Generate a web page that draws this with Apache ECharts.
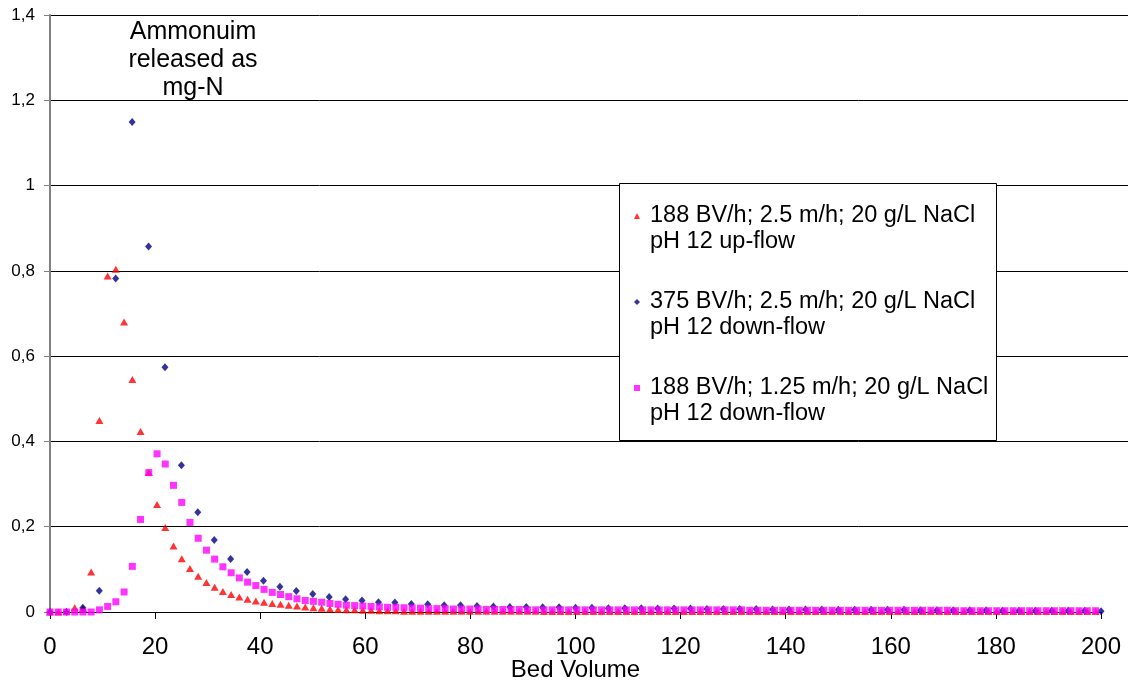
<!DOCTYPE html>
<html>
<head>
<meta charset="utf-8">
<title>Ammonium release during regeneration</title>
<script src="https://cdn.jsdelivr.net/npm/echarts@6/dist/echarts.min.js"></script>
<style>
  html, body { margin: 0; padding: 0; background: #ffffff; }
  #chart { width: 1132px; height: 682px; }
</style>
</head>
<body>
<div id="chart"></div>
<script>
// Bed volumes of the 30-second samples at 188 BV/h (runs 1 and 3)
const bvSlow = [
  0, 1.57, 3.13, 4.70, 6.27, 7.83, 9.40, 10.97, 12.53, 14.10,
  15.67, 17.23, 18.80, 20.37, 21.93, 23.50, 25.07, 26.63, 28.20, 29.77,
  31.33, 32.90, 34.47, 36.03, 37.60, 39.17, 40.73, 42.30, 43.87, 45.43,
  47.00, 48.57, 50.13, 51.70, 53.27, 54.83, 56.40, 57.97, 59.53, 61.10,
  62.67, 64.23, 65.80, 67.37, 68.93, 70.50, 72.07, 73.63, 75.20, 76.77,
  78.33, 79.90, 81.47, 83.03, 84.60, 86.17, 87.73, 89.30, 90.87, 92.43,
  94.00, 95.57, 97.13, 98.70, 100.27, 101.83, 103.40, 104.97, 106.53, 108.10,
  109.67, 111.23, 112.80, 114.37, 115.93, 117.50, 119.07, 120.63, 122.20, 123.77,
  125.33, 126.90, 128.47, 130.03, 131.60, 133.17, 134.73, 136.30, 137.87, 139.43,
  141.00, 142.57, 144.13, 145.70, 147.27, 148.83, 150.40, 151.97, 153.53, 155.10,
  156.67, 158.23, 159.80, 161.37, 162.93, 164.50, 166.07, 167.63, 169.20, 170.77,
  172.33, 173.90, 175.47, 177.03, 178.60, 180.17, 181.73, 183.30, 184.87, 186.43,
  188.00, 189.57, 191.13, 192.70, 194.27, 195.83, 197.40, 198.97
];

// Bed volumes of the 30-second samples at 375 BV/h (run 2)
const bvFast = [
  0, 3.125, 6.25, 9.375, 12.5, 15.625, 18.75, 21.875, 25, 28.125,
  31.25, 34.375, 37.5, 40.625, 43.75, 46.875, 50, 53.125, 56.25, 59.375,
  62.5, 65.625, 68.75, 71.875, 75, 78.125, 81.25, 84.375, 87.5, 90.625,
  93.75, 96.875, 100, 103.125, 106.25, 109.375, 112.5, 115.625, 118.75, 121.875,
  125, 128.125, 131.25, 134.375, 137.5, 140.625, 143.75, 146.875, 150, 153.125,
  156.25, 159.375, 162.5, 165.625, 168.75, 171.875, 175, 178.125, 181.25, 184.375,
  187.5, 190.625, 193.75, 196.875, 200
];

// Ammonium released (mg-N) per sample
const upFlow188 = [
  0, 0, 0.002, 0.010, 0.008, 0.094, 0.449, 0.788, 0.804, 0.680,
  0.545, 0.423, 0.327, 0.252, 0.198, 0.155, 0.125, 0.102, 0.084, 0.069,
  0.058, 0.048, 0.041, 0.035, 0.030, 0.026, 0.023, 0.020, 0.018, 0.016,
  0.014, 0.012, 0.010, 0.009, 0.007, 0.006, 0.005, 0.005, 0.004, 0.004,
  0.003, 0.003, 0.003, 0.002, 0.002, 0.002, 0.002, 0.002, 0.002, 0.002,
  0.002, 0.002, 0.002, 0.002, 0.002, 0.002, 0.002, 0.002, 0.002, 0.002,
  0.001, 0.001, 0.001, 0.001, 0.001, 0.001, 0.001, 0.001, 0.001, 0.001,
  0.001, 0.001, 0.001, 0.001, 0.001, 0.001, 0.001, 0.001, 0.001, 0.001,
  0.001, 0.001, 0.001, 0.001, 0.001, 0.001, 0.001, 0.001, 0.001, 0.001,
  0.001, 0.001, 0.001, 0.001, 0.001, 0.001, 0.001, 0.001, 0.001, 0.001,
  0.001, 0.001, 0.001, 0.001, 0.001, 0.001, 0.001, 0.001, 0.001, 0.001,
  0.001, 0.001, 0.001, 0.001, 0.001, 0.001, 0.001, 0.001, 0.001, 0.001,
  0.001, 0.001, 0.001, 0.001, 0.001, 0.001, 0.001, 0.001
];

const downFlow375 = [
  0, 0, 0.010, 0.050, 0.782, 1.149, 0.857, 0.574, 0.344, 0.234,
  0.169, 0.124, 0.094, 0.073, 0.059, 0.049, 0.042, 0.035, 0.030, 0.027,
  0.023, 0.022, 0.019, 0.018, 0.016, 0.016, 0.014, 0.013, 0.012, 0.012,
  0.011, 0.011, 0.010, 0.010, 0.009, 0.009, 0.009, 0.008, 0.008, 0.008,
  0.007, 0.007, 0.007, 0.007, 0.006, 0.006, 0.006, 0.006, 0.005, 0.005,
  0.005, 0.005, 0.005, 0.004, 0.004, 0.004, 0.004, 0.004, 0.003, 0.003,
  0.003, 0.003, 0.003, 0.003, 0.002
];

const downFlow188 = [
  0, 0, 0, 0, 0, 0, 0.005, 0.013, 0.024, 0.047,
  0.107, 0.217, 0.327, 0.371, 0.347, 0.297, 0.257, 0.210, 0.173, 0.145,
  0.124, 0.106, 0.092, 0.080, 0.070, 0.062, 0.053, 0.046, 0.041, 0.036,
  0.031, 0.027, 0.025, 0.023, 0.020, 0.018, 0.016, 0.015, 0.014, 0.013,
  0.012, 0.011, 0.011, 0.010, 0.009, 0.009, 0.008, 0.008, 0.008, 0.007,
  0.007, 0.007, 0.007, 0.006, 0.006, 0.006, 0.006, 0.006, 0.005, 0.005,
  0.005, 0.005, 0.005, 0.005, 0.005, 0.005, 0.005, 0.005, 0.005, 0.005,
  0.005, 0.005, 0.005, 0.005, 0.005, 0.005, 0.005, 0.005, 0.005, 0.005,
  0.005, 0.005, 0.005, 0.005, 0.005, 0.004, 0.004, 0.004, 0.004, 0.004,
  0.004, 0.004, 0.004, 0.004, 0.004, 0.004, 0.004, 0.004, 0.004, 0.004,
  0.004, 0.004, 0.004, 0.004, 0.004, 0.004, 0.004, 0.004, 0.004, 0.004,
  0.003, 0.003, 0.003, 0.003, 0.003, 0.003, 0.003, 0.003, 0.003, 0.003,
  0.003, 0.003, 0.003, 0.003, 0.003, 0.003, 0.003, 0.003
];

const seriesNames = [
  '188 BV/h; 2.5 m/h; 20 g/L NaCl\npH 12 up-flow',
  '375 BV/h; 2.5 m/h; 20 g/L NaCl\npH 12 down-flow',
  '188 BV/h; 1.25 m/h; 20 g/L NaCl\npH 12 down-flow'
];

const xAxisTitle = 'Bed Volume';
const yAxisTitle = 'Ammonuim\nreleased as\nmg-N';

const FONT = '"Liberation Sans", Arial, sans-serif';

function pairs(xs, ys) {
  return ys.map((y, i) => [xs[i], y]);
}

// horizontal gridlines run to the right edge; the zero line is the x axis itself
const gridLineColors = ['rgba(0,0,0,0)', '#000000', '#000000', '#000000',
                        '#000000', '#000000', '#000000', '#000000'];

const chart = echarts.init(document.getElementById('chart'), null, { renderer: 'canvas' });

chart.setOption({
  animation: false,
  backgroundColor: '#ffffff',
  textStyle: { fontFamily: FONT },
  grid: [
    { left: 50, right: 31, top: 15, bottom: 70, containLabel: false, outerBoundsMode: 'none' },
    { left: 50, right: 4, top: 15, bottom: 70, containLabel: false, outerBoundsMode: 'none' }
  ],
  xAxis: [
    {
      gridIndex: 0,
      type: 'value',
      min: 0,
      max: 200,
      interval: 20,
      name: xAxisTitle,
      nameLocation: 'middle',
      nameGap: 46,
      nameMoveOverlap: false,
      nameTextStyle: { fontSize: 24, color: '#000000', fontFamily: FONT, verticalAlign: 'top' },
      axisLine: { show: true, lineStyle: { color: '#000000', width: 1 } },
      axisTick: { show: true, length: 7, lineStyle: { color: '#000000' } },
      axisLabel: { fontSize: 24, color: '#000000', margin: 23, fontFamily: FONT },
      splitLine: { show: false },
      z: 1
    },
    {
      gridIndex: 1,
      type: 'value',
      min: 0,
      max: 1,
      show: false
    }
  ],
  yAxis: [
    {
      gridIndex: 0,
      type: 'value',
      min: 0,
      max: 1.4,
      interval: 0.2,
      axisLine: { show: true, lineStyle: { color: '#808080', width: 2 } },
      axisTick: { show: true, length: 6, lineStyle: { color: '#808080' } },
      axisLabel: {
        fontSize: 17,
        color: '#000000',
        margin: 15,
        fontFamily: FONT,
        formatter: v => String(+v.toFixed(1)).replace('.', ',')
      },
      splitLine: { show: false },
      z: 1
    },
    {
      gridIndex: 1,
      type: 'value',
      min: 0,
      max: 1.4,
      interval: 0.2,
      axisLine: { show: false },
      axisTick: { show: false },
      axisLabel: { show: false },
      splitLine: { show: true, lineStyle: { color: gridLineColors, width: 1 } },
      z: 0
    }
  ],
  legend: {
    orient: 'vertical',
    left: 634,
    top: 177,
    padding: 0,
    itemGap: 8,
    itemWidth: 6,
    itemHeight: 6,
    z: 5,
    backgroundColor: 'transparent',
    formatter: name => '\n' + name,
    textStyle: {
      fontSize: 23.5,
      lineHeight: 26,
      color: '#000000',
      fontFamily: FONT,
      padding: [0, 0, 0, 5]
    },
    data: [
      { name: seriesNames[0], icon: 'triangle' },
      { name: seriesNames[1], icon: 'diamond' },
      { name: seriesNames[2], icon: 'rect' }
    ]
  },
  graphic: [
    {
      type: 'rect',
      z: 3,
      silent: true,
      shape: { x: 619.5, y: 183.5, width: 377, height: 257 },
      style: { fill: '#ffffff', stroke: '#000000', lineWidth: 1 }
    },
    {
      type: 'text',
      z: 3,
      silent: true,
      x: 193,
      y: 18,
      style: {
        text: yAxisTitle,
        textAlign: 'center',
        textVerticalAlign: 'top',
        font: '25px ' + FONT,
        lineHeight: 28,
        fill: '#000000'
      }
    }
  ],
  series: [
    {
      name: seriesNames[0],
      type: 'scatter',
      xAxisIndex: 0,
      yAxisIndex: 0,
      symbol: 'triangle',
      symbolSize: [8, 7],
      itemStyle: { color: '#ff0000' },
      data: pairs(bvSlow, upFlow188)
    },
    {
      name: seriesNames[1],
      type: 'scatter',
      xAxisIndex: 0,
      yAxisIndex: 0,
      symbol: 'diamond',
      symbolSize: [7, 8],
      itemStyle: { color: '#000080' },
      data: pairs(bvFast, downFlow375)
    },
    {
      name: seriesNames[2],
      type: 'scatter',
      xAxisIndex: 0,
      yAxisIndex: 0,
      symbol: 'rect',
      symbolSize: 7,
      itemStyle: { color: '#ff00ff' },
      data: pairs(bvSlow, downFlow188)
    }
  ]
});
</script>
</body>
</html>
